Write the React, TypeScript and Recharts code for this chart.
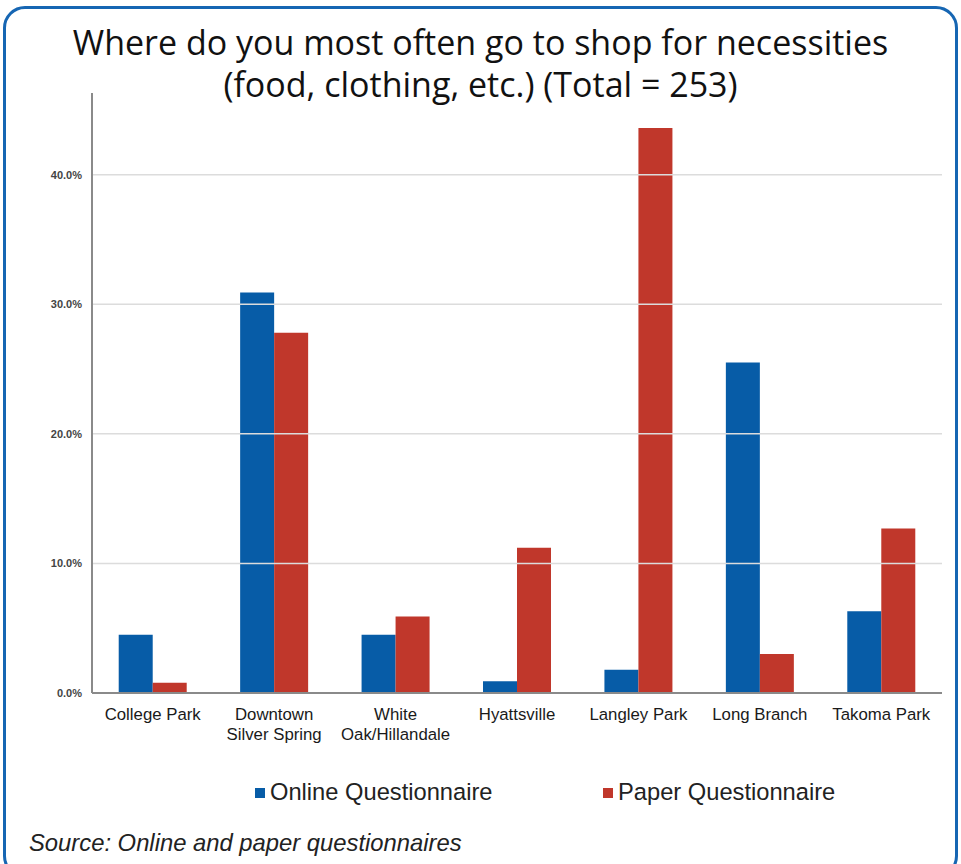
import { BarChart, Bar, XAxis, YAxis, ReferenceLine } from 'recharts';

const categories = [
  'College Park',
  'Downtown\nSilver Spring',
  'White\nOak/Hillandale',
  'Hyattsville',
  'Langley Park',
  'Long Branch',
  'Takoma Park',
];
const onlineValues = [4.5, 30.9, 4.5, 0.9, 1.8, 25.5, 6.3];
const paperValues = [0.8, 27.8, 5.9, 11.2, 43.6, 3.0, 12.7];
const yTicks = [0, 10, 20, 30, 40];

const BLUE = '#075ca7';
const RED = '#c0372b';

const data = categories.map((name, i) => ({
  name,
  online: onlineValues[i],
  paper: paperValues[i],
}));

const CategoryTick = (props: any) => {
  const { x, y, payload } = props;
  const lines = String(payload.value).split('\n');
  return (
    <text
      x={x}
      y={y + 19}
      textAnchor="middle"
      fill="#1a1a1a"
      fontSize={16.8}
      fontFamily="'Liberation Sans', Arial, sans-serif"
    >
      {lines.map((l, i) => (
        <tspan key={i} x={x} dy={i === 0 ? 0 : 20}>
          {l}
        </tspan>
      ))}
    </text>
  );
};

export default function App() {
  return (
    <div
      style={{
        position: 'fixed',
        left: 0,
        top: 0,
        width: 961,
        height: 864,
        overflow: 'hidden',
        background: '#fff',
      }}
    >
      <div
        style={{
          position: 'absolute',
          left: 3,
          top: 6,
          width: 949,
          height: 866,
          border: '3px solid #1666b3',
          borderRadius: 22,
        }}
      />
      <div style={{ position: 'absolute', left: 0, top: 0 }}>
        <BarChart
          width={961}
          height={760}
          data={data}
          margin={{ top: 93, right: 19, bottom: 0, left: 0 }}
          barCategoryGap="22%"
          barGap={0}
        >
          {yTicks.slice(1).map((t) => (
            <ReferenceLine key={t} y={t} stroke="#dcdcdc" strokeWidth={1.5} />
          ))}
          <XAxis
            dataKey="name"
            height={67}
            interval={0}
            tickLine={false}
            axisLine={{ stroke: '#8a8a8a', strokeWidth: 2 }}
            tick={<CategoryTick />}
          />
          <YAxis
            width={92}
            domain={[0, 46.3]}
            ticks={yTicks}
            tickLine={false}
            tickMargin={4}
            axisLine={{ stroke: '#8a8a8a', strokeWidth: 2 }}
            tickFormatter={(v: number) => `${v.toFixed(1)}%`}
            tick={{
              fill: '#444',
              fontSize: 11,
              fontWeight: 'bold',
              fontFamily: "'Liberation Sans', Arial, sans-serif",
            }}
          />
          <Bar dataKey="online" fill={BLUE} isAnimationActive={false} />
          <Bar dataKey="paper" fill={RED} isAnimationActive={false} />
        </BarChart>
      </div>
      <div
        style={{
          position: 'absolute',
          left: 0,
          top: 21,
          width: 961,
          textAlign: 'center',
          fontFamily: "'Open Sans', sans-serif",
          fontSize: 34,
          lineHeight: '42px',
          color: '#111',
        }}
      >
        Where do you most often go to shop for necessities
        <br />
        (food, clothing, etc.) (Total = 253)
      </div>
      <div
        style={{
          position: 'absolute',
          left: 0,
          top: 779,
          width: 961,
          fontFamily: "'Liberation Sans', Arial, sans-serif",
          fontSize: 23.7,
          color: '#222',
        }}
      >
        <div style={{ position: 'absolute', left: 255, display: 'flex', alignItems: 'center' }}>
          <span style={{ width: 10, height: 10, background: BLUE, marginRight: 5 }} />
          Online Questionnaire
        </div>
        <div style={{ position: 'absolute', left: 603, display: 'flex', alignItems: 'center' }}>
          <span style={{ width: 10, height: 10, background: RED, marginRight: 5 }} />
          Paper Questionnaire
        </div>
      </div>
      <div
        style={{
          position: 'absolute',
          left: 29,
          top: 829,
          fontFamily: "'Liberation Sans', Arial, sans-serif",
          fontStyle: 'italic',
          fontSize: 23.8,
          color: '#222',
        }}
      >
        Source: Online and paper questionnaires
      </div>
    </div>
  );
}
